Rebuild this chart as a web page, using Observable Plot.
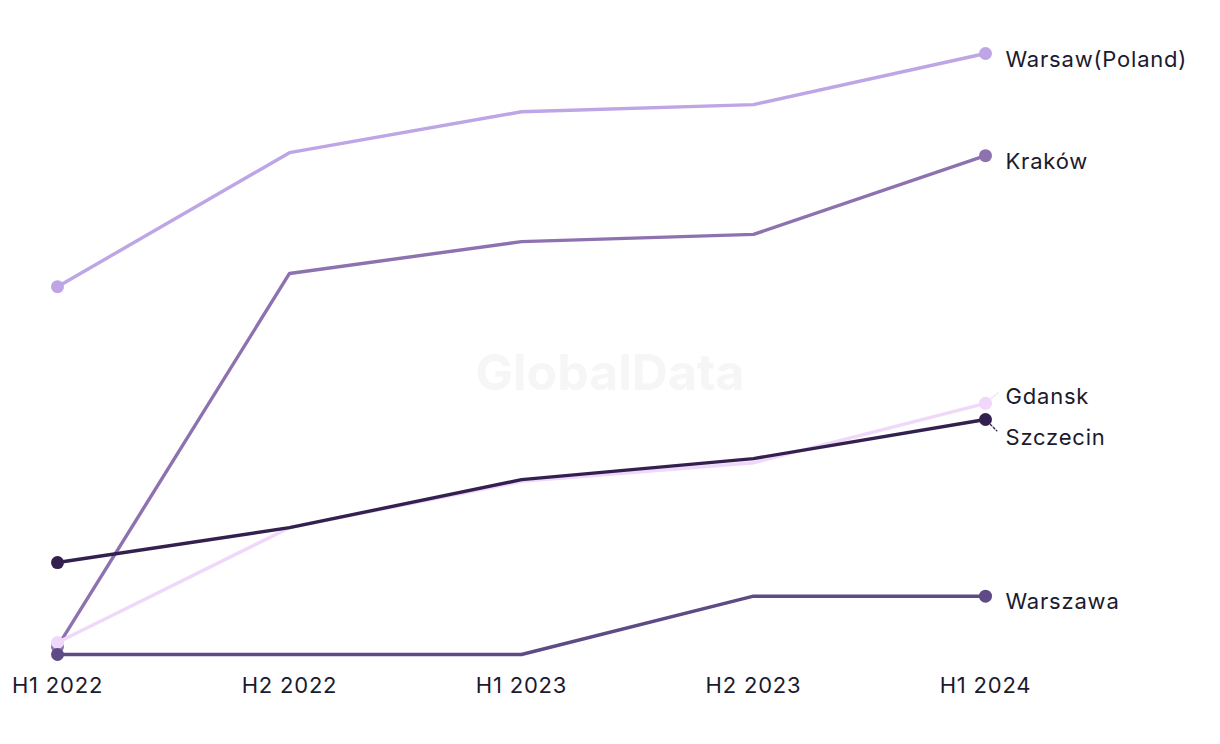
<!DOCTYPE html>
<html>
<head>
<meta charset="utf-8">
<script src="https://cdn.jsdelivr.net/npm/d3@7"></script>
<script src="https://cdn.jsdelivr.net/npm/@observablehq/plot@0.6"></script>
<style>
  html, body { margin: 0; padding: 0; background: #ffffff; }
  #chart { position: relative; width: 1220px; height: 744px; }
  svg { font-family: Inter, "Open Sans", sans-serif; }
  #watermark {
    position: absolute; left: 0; width: 1220px; top: 343px; text-align: center;
    font-family: Inter, sans-serif; font-weight: 700; font-size: 50px; color: #f6f6f6;
    pointer-events: none; line-height: 58px;
  }
  #chart svg { position: absolute; left: 0; top: 0; }
</style>
</head>
<body>
<div id="chart"><div id="watermark">GlobalData</div></div>
<script>
const periods = ["H1 2022", "H2 2022", "H1 2023", "H2 2023", "H1 2024"];
const cities = ["Warsaw(Poland)", "Kraków", "Gdansk", "Szczecin", "Warszawa"];
const warsawPoland = [61.2, 83.5, 90.3, 91.5, 100];
const krakow = [1.3, 63.4, 68.7, 69.9, 83.0];
const gdansk = [2.0, 21.1, 28.8, 31.9, 41.8];
const szczecin = [15.3, 21.1, 29.1, 32.6, 39.1];
const warszawa = [0, 0, 0, 9.7, 9.7];
const colors = ["#bda5e6", "#8e72b0", "#f0d8fb", "#33204f", "#5e4a85"];

const seriesValues = [warsawPoland, krakow, gdansk, szczecin, warszawa];
const rows = [];
cities.forEach((c, i) => periods.forEach((p, j) => rows.push({city: c, period: p, value: seriesValues[i][j]})));
const last = rows.filter(d => d.period === periods[periods.length - 1]);
const labelDy = {"Warsaw(Poland)": 0, "Kraków": 0, "Gdansk": -12, "Szczecin": 12, "Warszawa": 0};
const leaderAngle = {"Gdansk": 50, "Szczecin": 135};

const leaderShape = {
  draw(context, l) { context.moveTo(0, -7); context.lineTo(0, -7 - l); }
};

const chart = Plot.plot({
  width: 1220,
  height: 744,
  marginTop: 53,
  marginBottom: 90,
  marginLeft: 56,
  marginRight: 235,
  x: {type: "point", domain: periods, padding: 0, label: null},
  y: {domain: [0, 100], axis: null},
  color: {domain: cities, range: colors},
  style: {fontFamily: "Inter, 'Open Sans', sans-serif", color: "#1b1a2e", background: "transparent", letterSpacing: "0.8px"},
  marks: [
    Plot.axisX({tickSize: 0, tickPadding: 23, fontSize: 22, fill: "#1b1a2e", label: null}),
    Plot.line(rows, {x: "period", y: "value", z: "city", stroke: "city", strokeWidth: 3.4}),
    Plot.dot(rows.filter(d => d.period === periods[0] || d.period === periods[periods.length - 1]), {x: "period", y: "value", fill: "city", r: 6.5}),
    Plot.vector(last.filter(d => d.city in leaderAngle), {
      x: "period", y: "value", length: 9, rotate: d => leaderAngle[d.city],
      shape: leaderShape, anchor: "start", stroke: "city", strokeWidth: 1.3, strokeDasharray: "2,2"
    }),
    ...cities.map(c => Plot.text(last.filter(d => d.city === c), {x: "period", y: "value", text: "city", textAnchor: "start", dx: 20, dy: 6 + labelDy[c], fontSize: 22, fill: "#1b1a2e"}))
  ]
});
document.getElementById("chart").appendChild(chart);
</script>
</body>
</html>
